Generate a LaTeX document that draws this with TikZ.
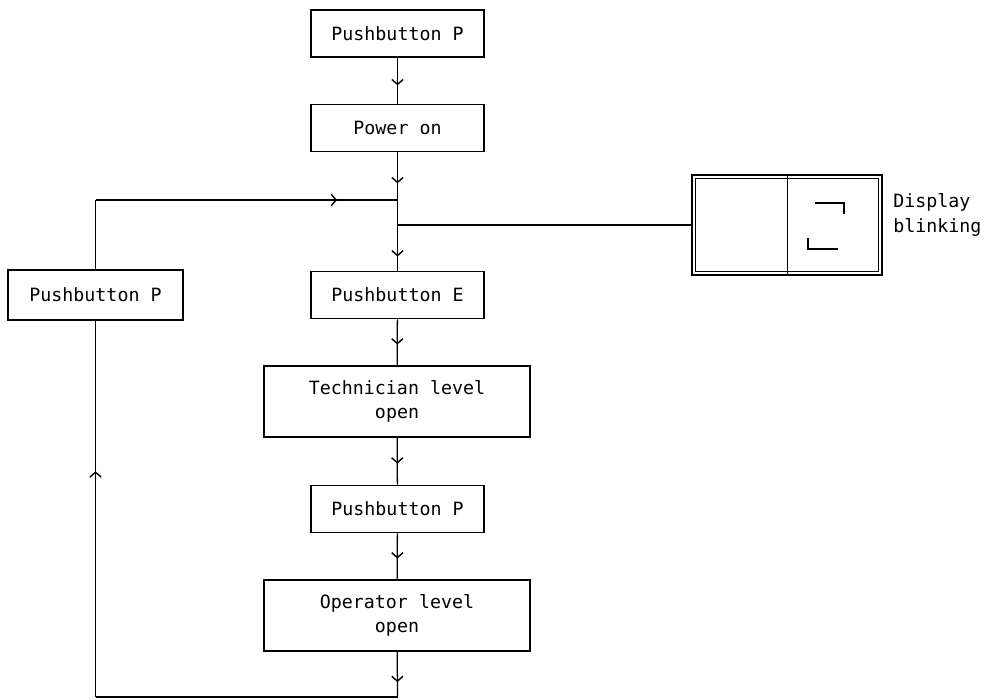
\documentclass[tikz,border=0pt]{standalone}
\usepackage{fontspec}
\setmonofont{DejaVu Sans Mono}
\usetikzlibrary{arrows.meta,decorations.markings}

\begin{document}
\begin{tikzpicture}[x=0.025cm,y=-0.025cm,
  box/.style={draw,line width=1.1pt,inner sep=0pt,align=center,
    minimum width=4.33cm,minimum height=1.18cm,
    font=\ttfamily\fontsize{13}{17.5}\selectfont},
  widebox/.style={box,minimum width=6.65cm,minimum height=1.78cm},
  flow/.style={line width=0.9pt},
  tip/.style={flow,postaction={decorate},
    decoration={markings,mark=at position #1 with {\arrow{Straight Barb[length=3.5pt,width=8pt,line width=1pt]}}}}]
\useasboundingbox (0,0) rectangle (1003,699);

% main column
\node[box] (pb1) at (397.5,33.5) {Pushbutton P};
\node[box] (pwr) at (397.5,128) {Power on};
\node[box] (pbE) at (397.5,295) {Pushbutton E};
\node[widebox] (tech) at (397,401.5) {Technician level\\open};
\node[box] (pb2) at (397.5,509) {Pushbutton P};
\node[widebox] (oper) at (397,615.5) {Operator level\\open};

% return branch
\node[box,minimum width=4.38cm,minimum height=1.25cm] (pbL) at (95.5,295) {Pushbutton P};

% display
\node[draw,double,double distance=1.5pt,line width=0.9pt,inner sep=0pt,
  minimum width=4.66cm,minimum height=2.42cm] (disp) at (787,225) {};
\draw[line width=0.7pt] (disp.north) -- (disp.south);
\draw[line width=1.3pt] (815,203) -- (844,203) -- (844,214);
\draw[line width=1.3pt] (808,238) -- (808,249) -- (838,249);
\node[anchor=west,align=left,inner sep=0pt,
  font=\ttfamily\fontsize{13}{17.5}\selectfont] (lbl) at (893,215) {Display\\blinking};

\coordinate (jn) at (397.5,200);
\coordinate (bl) at (397.5,697);
\coordinate (br) at (pbL.south |- bl);
\coordinate (tl) at (pbL.north |- jn);

\draw[tip=0.6] (pb1) -- (pwr);
\draw[tip=0.65] (pwr) -- (jn);
\draw[tip=0.8] (jn) -- (pbE);
\draw[flow] (disp.west) -- (disp.west -| jn);
\draw[tip=0.55] (pbE) -- (tech);
\draw[tip=0.55] (tech) -- (pb2);
\draw[tip=0.55] (pb2) -- (oper);
\draw[tip=0.67] (oper) -- (bl);
\draw[flow] (bl) -- (br);
\draw[tip=0.6] (br) -- (pbL);
\draw[flow] (pbL) -- (tl);
\draw[tip=0.8] (tl) -- (jn);
\end{tikzpicture}
\end{document}
